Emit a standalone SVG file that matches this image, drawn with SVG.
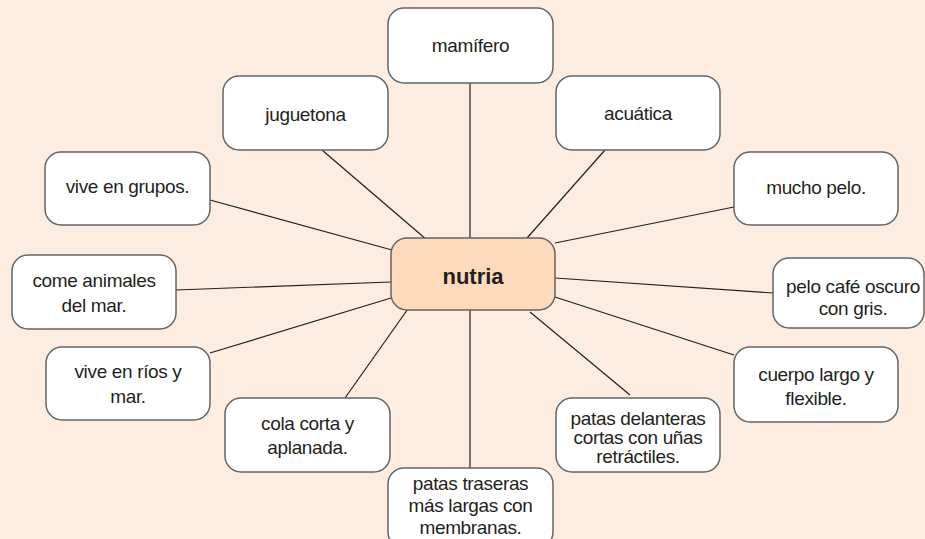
<svg xmlns="http://www.w3.org/2000/svg" width="925" height="539" viewBox="0 0 925 539">
<style>
.box{fill:#ffffff;stroke:#636466;stroke-width:1.5}
.main{fill:#fcdabb;stroke:#636466;stroke-width:1.5}
.t{font-family:"Liberation Sans",Arial,sans-serif;font-size:19px;letter-spacing:-0.35px;fill:#231f20;text-anchor:middle}
.b{font-family:"Liberation Sans",Arial,sans-serif;font-size:22px;font-weight:bold;fill:#231f20;text-anchor:middle}
.c line{stroke:#231f20;stroke-width:1.2}
</style>
<rect x="0" y="0" width="925" height="539" fill="#fdece0"/>
<g class="c" id="connectors">
<line x1="470" y1="83" x2="470" y2="238"/>
<line x1="322" y1="150" x2="427" y2="240"/>
<line x1="605" y1="150" x2="527" y2="238"/>
<line x1="210" y1="200" x2="392" y2="250"/>
<line x1="734" y1="207" x2="555" y2="243"/>
<line x1="176" y1="290" x2="391" y2="282"/>
<line x1="773" y1="293" x2="555" y2="278"/>
<line x1="210" y1="353" x2="391" y2="298"/>
<line x1="734" y1="355" x2="555" y2="297"/>
<line x1="345" y1="398" x2="410" y2="306"/>
<line x1="470" y1="310" x2="470" y2="468"/>
<line x1="630" y1="395" x2="530" y2="312"/>
</g>
<g id="mamifero"><rect class="box" x="388" y="8" width="165" height="75" rx="16"/><text class="t" x="470.5" y="52">mamífero</text></g>
<g id="juguetona"><rect class="box" x="223" y="76" width="165" height="74" rx="16"/><text class="t" x="305.5" y="121">juguetona</text></g>
<g id="acuatica"><rect class="box" x="556" y="76" width="164" height="74" rx="16"/><text class="t" x="638" y="120">acuática</text></g>
<g id="grupos"><rect class="box" x="45" y="152" width="165" height="73" rx="16"/><text class="t" x="127.5" y="193">vive en grupos.</text></g>
<g id="pelo"><rect class="box" x="734" y="152" width="164" height="73" rx="16"/><text class="t" x="816" y="194">mucho pelo.</text></g>
<g id="nutria"><rect class="main" x="391" y="238" width="164" height="72" rx="16"/><text class="b" x="473" y="284">nutria</text></g>
<g id="come"><rect class="box" x="12" y="255" width="164" height="74" rx="16"/><text class="t" x="94" y="287">come animales</text><text class="t" x="94" y="312">del mar.</text></g>
<g id="cafe"><rect class="box" x="773" y="258" width="151" height="70" rx="16"/><text class="t" x="853" y="293">pelo café oscuro</text><text class="t" x="853" y="315">con gris.</text></g>
<g id="rios"><rect class="box" x="46" y="347" width="164" height="73" rx="16"/><text class="t" x="128" y="378">vive en ríos y</text><text class="t" x="128" y="403">mar.</text></g>
<g id="cuerpo"><rect class="box" x="734" y="347" width="164" height="75" rx="16"/><text class="t" x="816" y="381">cuerpo largo y</text><text class="t" x="816" y="405">flexible.</text></g>
<g id="cola"><rect class="box" x="225" y="398" width="165" height="74" rx="16"/><text class="t" x="307.5" y="430">cola corta y</text><text class="t" x="307.5" y="454">aplanada.</text></g>
<g id="delanteras"><rect class="box" x="556" y="398" width="164" height="74" rx="16"/><text class="t" x="638" y="425">patas delanteras</text><text class="t" x="638" y="444">cortas con uñas</text><text class="t" x="638" y="463">retráctiles.</text></g>
<g id="traseras"><rect class="box" x="388" y="468" width="165" height="80" rx="16"/><text class="t" x="470.5" y="490">patas traseras</text><text class="t" x="470.5" y="512">más largas con</text><text class="t" x="470.5" y="534">membranas.</text></g>
</svg>
